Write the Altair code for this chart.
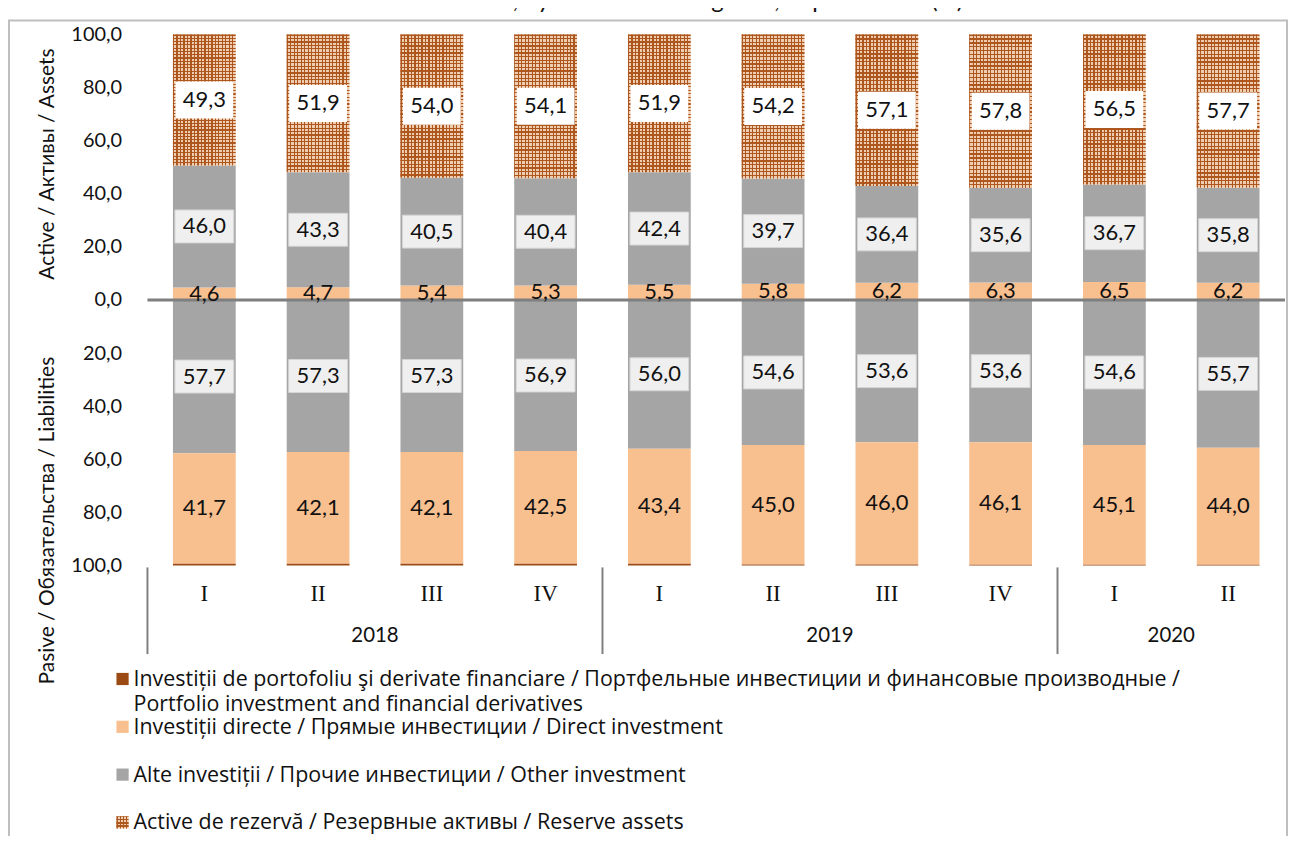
import altair as alt
import pandas as pd

# ---------------- data ----------------
years = ["2018", "2018", "2018", "2018", "2019", "2019", "2019", "2019", "2020", "2020"]
quarters = ["I", "II", "III", "IV", "I", "II", "III", "IV", "I", "II"]

# Assets, % of total
a_portfolio = [0.1, 0.1, 0.1, 0.2, 0.2, 0.3, 0.3, 0.3, 0.3, 0.3]
a_direct = [4.6, 4.7, 5.4, 5.3, 5.5, 5.8, 6.2, 6.3, 6.5, 6.2]
a_other = [46.0, 43.3, 40.5, 40.4, 42.4, 39.7, 36.4, 35.6, 36.7, 35.8]
a_reserve = [49.3, 51.9, 54.0, 54.1, 51.9, 54.2, 57.1, 57.8, 56.5, 57.7]
# Liabilities, % of total
l_portfolio = [0.6, 0.6, 0.6, 0.6, 0.6, 0.4, 0.4, 0.3, 0.3, 0.3]
l_direct = [41.7, 42.1, 42.1, 42.5, 43.4, 45.0, 46.0, 46.1, 45.1, 44.0]
l_other = [57.7, 57.3, 57.3, 56.9, 56.0, 54.6, 53.6, 53.6, 54.6, 55.7]

series_keys = ["portfolio", "direct", "other", "reserve"]
series_colors = ["#9A4A12", "#F8BF8F", "#A5A5A5", "#EFCDB0"]
pattern_dark = "#AD561D"
legend_labels = [
    "Investiții de portofoliu şi derivate financiare / Портфельные инвестиции и финансовые производные /\n"
    "Portfolio investment and financial derivatives",
    "Investiții directe / Прямые инвестиции / Direct investment",
    "Alte investiții / Прочие инвестиции / Other investment",
    "Active de rezervă / Резервные активы / Reserve assets",
]
legend_rows = [0, 2, 4, 6]

title_text = "External financial assets and liabilities structure, by functional categories, at period end (%)"
assets_title = "Active / Активы / Assets"
liab_title = "Pasive / Обязательства / Liabilities"

SANS = "Lato"
LEG_FONT = "Open Sans"
SERIF = "Liberation Serif"

periods = [f"{y}-{q}" for y, q in zip(years, quarters)]


def fmt(v):
    return f"{v:.1f}".replace(".", ",")


def stripes(n, duty, horizontal):
    """Linear gradient with n hard-edged stripes (texture for the reserve-assets pattern)."""
    stops = []
    for k in range(n):
        a, b, c = k / n, (k + duty) / n, (k + 1) / n
        stops += [
            alt.GradientStop(offset=a, color=pattern_dark),
            alt.GradientStop(offset=b, color=pattern_dark),
            alt.GradientStop(offset=b, color="rgba(255,255,255,0)"),
            alt.GradientStop(offset=c, color="rgba(255,255,255,0)"),
        ]
    if horizontal:
        return alt.LinearGradient(gradient="linear", stops=stops, x1=0, x2=1, y1=0, y2=0)
    return alt.LinearGradient(gradient="linear", stops=stops, x1=0, x2=0, y1=0, y2=1)


# ---------------- derived tables ----------------
bar_rows, label_rows = [], []
for i, p in enumerate(periods):
    cum = 0.0
    for key, vals in zip(series_keys, [a_portfolio, a_direct, a_other, a_reserve]):
        v = vals[i]
        bar_rows.append(dict(period=p, series=key, y0=cum, y1=cum + v))
        if key != "portfolio":
            label_rows.append(dict(period=p, series=key, side="a", yc=cum + v / 2, txt=fmt(v)))
        cum += v
    cum = 0.0
    for key, vals in zip(["other", "direct", "portfolio"], [l_other, l_direct, l_portfolio]):
        v = vals[i]
        bar_rows.append(dict(period=p, series=key, y0=cum, y1=cum - v))
        if key != "portfolio":
            label_rows.append(dict(period=p, series=key, side="l", yc=cum - v / 2, txt=fmt(v)))
        cum -= v

bars_df = pd.DataFrame(bar_rows)
labels_df = pd.DataFrame(label_rows)

year_rows, sep_rows = [], []
start = 0
for y in dict.fromkeys(years):
    n = years.count(y)
    year_rows.append(dict(year=y, center=start + n / 2))
    sep_rows.append(dict(pos=start))
    start += n
years_df = pd.DataFrame(year_rows)
seps_df = pd.DataFrame(sep_rows)

legend_df = pd.DataFrame(dict(row=legend_rows, txt=legend_labels, series=series_keys))

one = alt.InlineData(values=[{"k": 1}])

color_scale = alt.Scale(domain=series_keys, range=series_colors)

x_enc = alt.X(
    "period:N",
    sort=periods,
    scale=alt.Scale(paddingInner=0.45, paddingOuter=0.225),
    axis=alt.Axis(
        title=None,
        labelExpr="split(datum.value, '-')[1]",
        domain=False,
        ticks=False,
        labelFont=SERIF,
        labelFontSize=23,
        labelColor="#111111",
        labelPadding=17,
        labelAngle=0,
    ),
)
y_scale = alt.Scale(domain=[-100, 100], nice=False)

bars = alt.Chart(bars_df).mark_bar(size=63).encode(
    x=x_enc,
    y=alt.Y(
        "y0:Q",
        scale=y_scale,
        axis=alt.Axis(
            title=None,
            values=list(range(-100, 101, 20)),
            labelExpr="replace(format(abs(datum.value), '.1f'), '.', ',')",
            grid=False,
            domain=False,
            ticks=False,
            labelFont=SANS,
            labelFontSize=20,
            labelColor="#111111",
            labelPadding=26,
        ),
    ),
    y2="y1:Q",
    color=alt.Color("series:N", scale=color_scale, legend=None),
)

reserve_base = alt.Chart(bars_df).transform_filter("datum.series == 'reserve'")
reserve_v = reserve_base.mark_bar(size=63, fill=stripes(18, 0.35, True)).encode(
    x=alt.X("period:N", sort=periods), y=alt.Y("y0:Q", scale=y_scale), y2="y1:Q"
)
reserve_h = reserve_base.mark_bar(size=63, fill=stripes(40, 0.35, False)).encode(
    x=alt.X("period:N", sort=periods), y=alt.Y("y0:Q", scale=y_scale), y2="y1:Q"
)

white_boxes = alt.Chart(labels_df).transform_filter("datum.series == 'reserve'").mark_point(
    shape="M-1,-0.64H1V0.64H-1Z", size=3364, filled=True, fill="white", opacity=1, strokeWidth=0
).encode(x=alt.X("period:N", sort=periods), y=alt.Y("yc:Q", scale=y_scale))

gray_boxes = alt.Chart(labels_df).transform_filter("datum.series == 'other'").mark_point(
    shape="M-1,-0.56H1V0.56H-1Z", size=3481, filled=True, fill="#EFEFEF", opacity=1,
    stroke="#D6D6D6", strokeWidth=1
).encode(x=alt.X("period:N", sort=periods), y=alt.Y("yc:Q", scale=y_scale))

zero_line = alt.Chart(one).mark_rule(color="#7F7F7F", strokeWidth=3).encode(y=alt.datum(0))

value_labels = alt.Chart(labels_df).mark_text(
    font=SANS, fontSize=22, color="#111111", align="center", baseline="middle"
).encode(x=alt.X("period:N", sort=periods), y=alt.Y("yc:Q", scale=y_scale), text="txt:N")

main = alt.layer(bars, reserve_v, reserve_h, white_boxes, gray_boxes, zero_line, value_labels)

idx_scale = alt.Scale(domain=[0, len(periods)], nice=False, zero=False)
separators = alt.Chart(seps_df).mark_rule(color="#808080", strokeWidth=2).encode(
    x=alt.X("pos:Q", scale=idx_scale, axis=None),
    y=alt.value(535),
    y2=alt.value(622),
)
year_labels = alt.Chart(years_df).mark_text(
    font=SANS, fontSize=20.5, color="#111111", baseline="middle"
).encode(x=alt.X("center:Q", scale=idx_scale, axis=None), y=alt.value(604), text="year:N")
xgroups = alt.layer(separators, year_labels)

leg_scale = alt.Scale(domain=[0, 6], range=[647, 791], nice=False, zero=False)
legend_sym = alt.Chart(legend_df).mark_square(size=150, opacity=1).encode(
    x=alt.value(-25),
    y=alt.Y("row:Q", scale=leg_scale, axis=None),
    color=alt.Color("series:N", scale=color_scale, legend=None),
)
legend_sym_pat_v = alt.Chart(legend_df).transform_filter("datum.series == 'reserve'").mark_square(
    size=150, opacity=1, fill=stripes(4, 0.35, True)
).encode(x=alt.value(-25), y=alt.Y("row:Q", scale=leg_scale, axis=None))
legend_sym_pat_h = alt.Chart(legend_df).transform_filter("datum.series == 'reserve'").mark_square(
    size=150, opacity=1, fill=stripes(4, 0.35, False)
).encode(x=alt.value(-25), y=alt.Y("row:Q", scale=leg_scale, axis=None))
legend_txt = alt.Chart(legend_df).mark_text(
    font=LEG_FONT, fontSize=21.5, color="#111111", align="left", baseline="top",
    lineBreak="\n", lineHeight=25, dy=-10
).encode(x=alt.value(-14), y=alt.Y("row:Q", scale=leg_scale, axis=None), text="txt:N")
legend = alt.layer(legend_sym, legend_sym_pat_v, legend_sym_pat_h, legend_txt)

border = alt.Chart(one).mark_rect(
    fill="white", fillOpacity=0, stroke="#BFBFBF", strokeWidth=2
).encode(x=alt.value(-139), x2=alt.value(1144), y=alt.value(-14), y2=alt.value(1000))

title = alt.Chart(one).mark_text(
    text=title_text, font=SANS, fontSize=24, color="#111111", align="left", baseline="alphabetic"
).encode(x=alt.value(-128), y=alt.value(-27))

t_assets = alt.Chart(one).mark_text(
    text=assets_title, font=SANS, fontSize=21, color="#111111", angle=270,
    align="center", baseline="middle"
).encode(x=alt.value(-100), y=alt.value(130))
t_liab = alt.Chart(one).mark_text(
    text=liab_title, font=SANS, fontSize=21, color="#111111", angle=270,
    align="center", baseline="middle"
).encode(x=alt.value(-100), y=alt.value(488))
deco = alt.layer(border, title, t_assets, t_liab)

chart = (
    alt.layer(deco, main, xgroups, legend)
    .resolve_scale(x="independent", y="independent")
    .properties(
        width=1142,
        height=533,
        autosize=alt.AutoSizeParams(type="none"),
        padding={"left": 140, "top": 25, "right": 4, "bottom": 270},
        background="white",
    )
    .configure_view(stroke=None)
)

chart.save("out.html", embed_options={"renderer": "svg", "actions": False})
